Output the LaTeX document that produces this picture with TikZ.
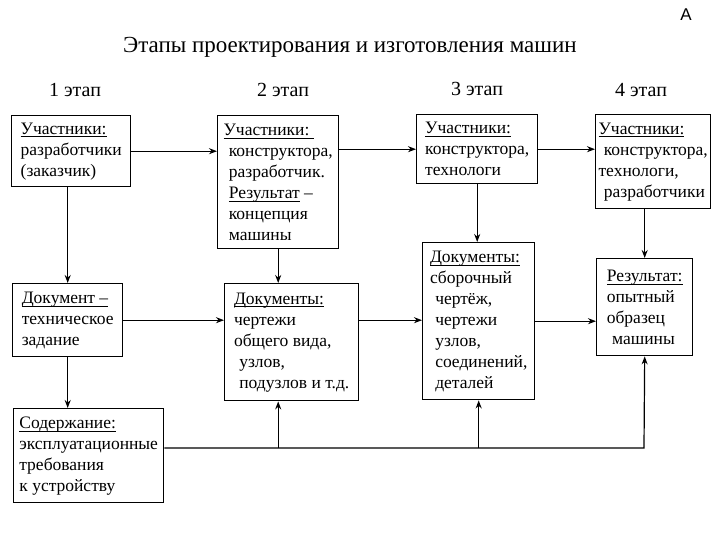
\documentclass[tikz,border=0pt]{standalone}
\usepackage{fontspec}
\setmainfont{Liberation Serif}
\newfontfamily\cornersans{Liberation Sans}
\usetikzlibrary{arrows.meta}

\newcommand\blockfont{\fontsize{8.75}{10.5}\selectfont}
\newcommand\ind{\hspace*{.3em}}
\newcommand\ul[1]{{\setbox0\hbox{#1}\dp0=0pt\underline{\box0}}}

\begin{document}
\begin{tikzpicture}[x=.5pt,y=-.5pt,>={Stealth[length=4pt,width=3pt]}]
\tikzset{
  box/.style={draw, line width=.7pt, anchor=north west, align=left, inner sep=0pt, font=\blockfont},
  link/.style={->, line width=.6pt},
  stage/.style={font=\fontsize{10}{12}\selectfont}
}
\useasboundingbox (0,0) rectangle (720,540);

% heading
\node (corner) at (686,15) {\cornersans\fontsize{8.5}{10}\selectfont A};
\node[font=\fontsize{11.5}{14}\selectfont] (title) at (350,47) {Этапы проектирования и изготовления машин};
\node[stage] (st1) at (75,90) {1 этап};
\node[stage] (st2) at (283,90) {2 этап};
\node[stage] (st3) at (477,89) {3 этап};
\node[stage] (st4) at (641,90) {4 этап};

% stage boxes
\node[box, minimum width=59.5pt, minimum height=35.5pt] (uch1) at (11,115)
  {\ul{Участники:}\\разработчики\\(заказчик)};
\node[box, minimum width=60.5pt, minimum height=66.5pt] (uch2) at (217,115)
  {\ul{Участники:\ }\\\ind конструктора,\\\ind разработчик.\\\ind\ul{Результат} –\\\ind концепция\\\ind машины};
\node[box, minimum width=60.5pt, minimum height=34.5pt] (uch3) at (416,114)
  {\ul{Участники:}\\конструктора,\\технологи};
\node[box, minimum width=57.5pt, minimum height=47pt] (uch4) at (595,114)
  {\ul{Участники:}\\\ind конструктора,\\технологи,\\\ind разработчики};

\node[box, minimum width=55pt, minimum height=36.5pt] (doc1) at (12,283)
  {\ul{Документ –}\\техническое\\задание};
\node[box, minimum width=67pt, minimum height=58.5pt] (doc2) at (224,283)
  {\ul{Документы:}\\чертежи\\общего вида,\\\ind узлов,\\\ind подузлов и т.д.};
\node[box, minimum width=56pt, minimum height=78.5pt] (doc3) at (422,242)
  {\ul{Документы:}\\сборочный\\\ind чертёж,\\\ind чертежи\\\ind узлов,\\\ind соединений,\\\ind деталей};
\node[box, minimum width=48pt, minimum height=48.5pt] (rez4) at (596,258)
  {\ul{Результат:}\\опытный\\образец\\\ind машины};

\node[box, minimum width=75pt, minimum height=47pt] (soder) at (13,408)
  {\ul{Содержание:}\\эксплуатационные\\требования\\к устройству};

% arrows along the top row
\draw[link] (uch1.east) -- (uch1.east -| uch2.west);
\draw[link] (uch3.west -| uch2.east) -- (uch3.west);
\draw[link] (uch3.east) -- (uch3.east -| uch4.west);

% arrows down
\draw[link] (doc1.north |- uch1.south) -- (doc1.north);
\draw[link] (doc1.south) -- (doc1.south |- soder.north);
\draw[link] (uch2.south) -- (uch2.south |- doc2.north);
\draw[link] (uch3.south) -- (uch3.south |- doc3.north);
\draw[link] (rez4.north |- uch4.south) -- (rez4.north);

% arrows along the middle row
\draw[link] (doc1.east) -- (doc1.east -| doc2.west);
\draw[link] (doc1.east -| doc2.east) -- (doc1.east -| doc3.west);
\draw[link] (doc3.east) -- (doc3.east -| rez4.west);

% requirements line
\coordinate (bus) at (644,448);
\draw[link] (soder.east |- bus) -- (bus) -- (rez4.south);
\draw[link] (doc3.south |- bus) -- (doc3.south);
\draw[link] (uch2.south |- bus) -- (uch2.south |- doc2.south);
\end{tikzpicture}
\end{document}
